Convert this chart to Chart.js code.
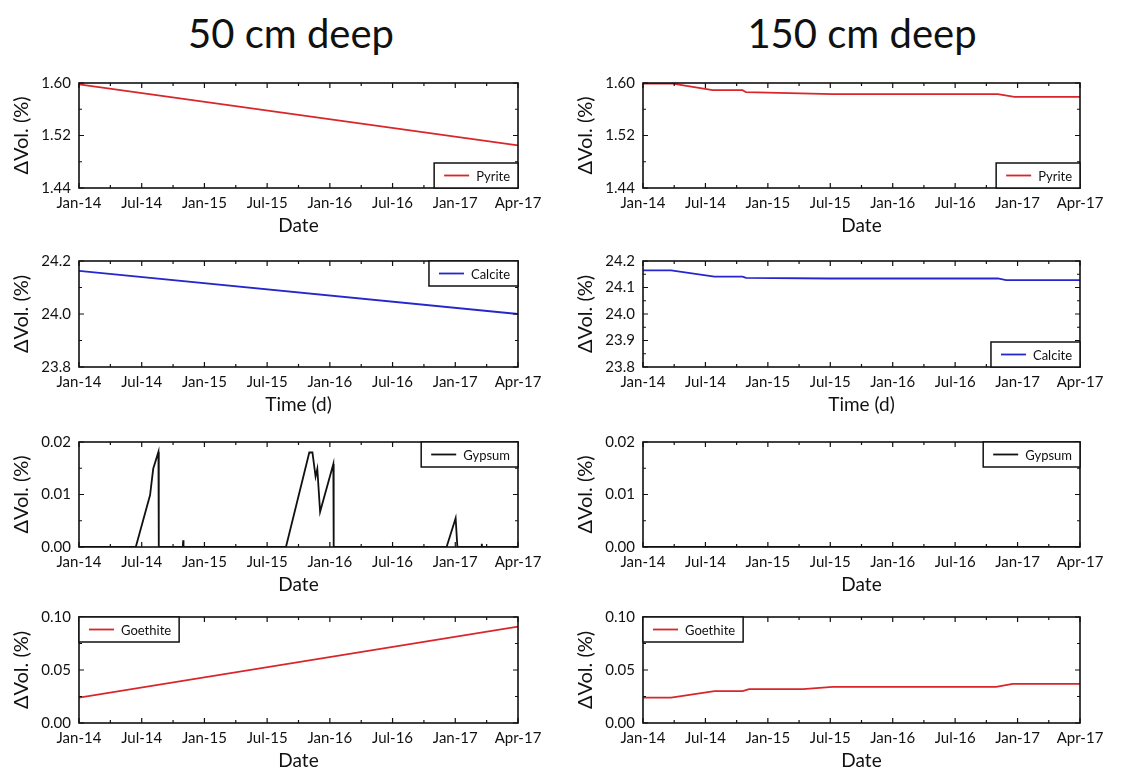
<!DOCTYPE html>
<html lang="en">
<head>
<meta charset="UTF-8">
<title>Mineral volume change - 50 cm and 150 cm deep</title>
<script src="https://cdn.jsdelivr.net/npm/chart.js"></script>
<style>
  body { margin: 0; background: #fff; font-family: Lato, sans-serif; }
  #page { position: relative; width: 1125px; height: 771px; overflow: hidden; }
  h2 { position: absolute; top: 9px; margin: 0; width: 400px; text-align: center;
       font-weight: normal; font-size: 40px; color: #111; }
  canvas { position: absolute; }
</style>
</head>
<body>
<div id="page">
  <h2 style="left: 91px;">50 cm deep</h2>
  <h2 style="left: 662px;">150 cm deep</h2>
</div>

<script>
// x axis: days from start, a labelled tick every 180 days
const xTickLabels = ['Jan-14', 'Jul-14', 'Jan-15', 'Jul-15', 'Jan-16', 'Jul-16', 'Jan-17', 'Apr-17'];

// 50 cm deep
const pyrite50Days = [0, 1260];
const pyrite50 = [1.598, 1.505];
const calcite50Days = [0, 1260];
const calcite50 = [24.163, 24.000];
const gypsum50Days = [0, 163, 204, 213, 228, 229, 298, 299, 300, 594, 661, 670, 679, 684, 692, 730, 731, 1055, 1081, 1086, 1155, 1156, 1157, 1260];
const gypsum50 = [0, 0, 0.0099, 0.0149, 0.0181, 0, 0, 0.0013, 0, 0, 0.0180, 0.0180, 0.0134, 0.0149, 0.0067, 0.0158, 0, 0, 0.0055, 0, 0, 0.0006, 0, 0];
const goethite50Days = [0, 1260];
const goethite50 = [0.024, 0.091];

// 150 cm deep
const pyrite150Days = [0, 86, 201, 287, 297, 547, 1023, 1071, 1260];
const pyrite150 = [1.599, 1.599, 1.589, 1.589, 1.586, 1.583, 1.583, 1.579, 1.579];
const calcite150Days = [0, 81, 206, 287, 297, 537, 1023, 1047, 1260];
const calcite150 = [24.165, 24.165, 24.141, 24.141, 24.136, 24.134, 24.134, 24.128, 24.128];
const gypsum150Days = [0, 1260];
const gypsum150 = [0, 0];
const goethite150Days = [0, 81, 206, 287, 306, 461, 547, 1018, 1066, 1260];
const goethite150 = [0.024, 0.024, 0.030, 0.030, 0.032, 0.032, 0.034, 0.034, 0.037, 0.037];

const RED = '#d8262a', BLUE = '#2626cc', BLACK = '#111';

Chart.defaults.font.family = 'Lato, sans-serif';
Chart.defaults.color = '#111';

// box round the plot with inward ticks on all four sides
const frameTicks = {
    id: 'frameTicks',
    afterDatasetsDraw(chart, args, opts) {
        const { left, right, top, bottom } = chart.chartArea;
        const xs = chart.scales.x, ys = chart.scales.y;
        const ctx = chart.ctx;
        ctx.save();
        ctx.strokeStyle = BLACK;
        ctx.lineWidth = 1.2;
        ctx.beginPath();
        const isMajor = (v, step) => Math.abs(v / step - Math.round(v / step)) < 1e-6;
        for (let i = 0; xs.min + i * opts.xMinor <= xs.max + 1e-9; i++) {
            const v = xs.min + i * opts.xMinor;
            const len = isMajor(v - xs.min, opts.xMajor) ? 5 : 3;
            const px = xs.getPixelForValue(v);
            ctx.moveTo(px, bottom); ctx.lineTo(px, bottom - len);
            ctx.moveTo(px, top); ctx.lineTo(px, top + len);
        }
        for (let i = 0; ys.min + i * opts.yMinor <= ys.max + 1e-9; i++) {
            const v = ys.min + i * opts.yMinor;
            const len = isMajor(v - ys.min, opts.yMajor) ? 5 : 3;
            const py = ys.getPixelForValue(v);
            ctx.moveTo(left, py); ctx.lineTo(left + len, py);
            ctx.moveTo(right, py); ctx.lineTo(right - len, py);
        }
        ctx.stroke();
        ctx.lineWidth = 1.6;
        ctx.strokeRect(left, top, right - left, bottom - top);
        ctx.restore();
    }
};

// boxed legend sitting in a corner of the plot
const cornerLegend = {
    id: 'cornerLegend',
    afterDatasetsDraw(chart, args, opts) {
        const ds = chart.data.datasets[0];
        const { left, right, top, bottom } = chart.chartArea;
        const ctx = chart.ctx;
        ctx.save();
        ctx.font = '13px Lato, sans-serif';
        const w = ctx.measureText(ds.label).width + 50;
        const h = 25;
        const x = opts.corner.includes('l') ? left : right - w;
        const y = opts.corner.includes('t') ? top : bottom - h;
        ctx.fillStyle = '#fff';
        ctx.fillRect(x, y, w, h);
        ctx.strokeStyle = BLACK;
        ctx.lineWidth = 1.5;
        ctx.strokeRect(x, y, w, h);
        ctx.strokeStyle = ds.borderColor;
        ctx.lineWidth = 1.8;
        ctx.beginPath();
        ctx.moveTo(x + 10, y + h / 2);
        ctx.lineTo(x + 35, y + h / 2);
        ctx.stroke();
        ctx.fillStyle = BLACK;
        ctx.textBaseline = 'middle';
        ctx.fillText(ds.label, x + 42, y + h / 2 + 1);
        ctx.restore();
    }
};

const colLeft = [0, 564];
const colPadRight = [42, 44];
const rowTop = [76, 254, 435, 610];
const rowBottom = [188, 367, 547, 723];

const panels = [
    { col: 0, row: 0, days: pyrite50Days, vals: pyrite50, label: 'Pyrite', color: RED, yMin: 1.44, yMax: 1.60, yStep: 0.08, yMinor: 0.04, dec: 2, corner: 'br', xTitle: 'Date' },
    { col: 0, row: 1, days: calcite50Days, vals: calcite50, label: 'Calcite', color: BLUE, yMin: 23.8, yMax: 24.2, yStep: 0.2, yMinor: 0.1, dec: 1, corner: 'tr', xTitle: 'Time (d)' },
    { col: 0, row: 2, days: gypsum50Days, vals: gypsum50, label: 'Gypsum', color: BLACK, yMin: 0, yMax: 0.02, yStep: 0.01, yMinor: 0.005, dec: 2, corner: 'tr', xTitle: 'Date' },
    { col: 0, row: 3, days: goethite50Days, vals: goethite50, label: 'Goethite', color: RED, yMin: 0, yMax: 0.10, yStep: 0.05, yMinor: 0.025, dec: 2, corner: 'tl', xTitle: 'Date' },
    { col: 1, row: 0, days: pyrite150Days, vals: pyrite150, label: 'Pyrite', color: RED, yMin: 1.44, yMax: 1.60, yStep: 0.08, yMinor: 0.04, dec: 2, corner: 'br', xTitle: 'Date' },
    { col: 1, row: 1, days: calcite150Days, vals: calcite150, label: 'Calcite', color: BLUE, yMin: 23.8, yMax: 24.2, yStep: 0.1, yMinor: 0.05, dec: 1, corner: 'br', xTitle: 'Time (d)' },
    { col: 1, row: 2, days: gypsum150Days, vals: gypsum150, label: 'Gypsum', color: BLACK, yMin: 0, yMax: 0.02, yStep: 0.01, yMinor: 0.005, dec: 2, corner: 'tr', xTitle: 'Date' },
    { col: 1, row: 3, days: goethite150Days, vals: goethite150, label: 'Goethite', color: RED, yMin: 0, yMax: 0.10, yStep: 0.05, yMinor: 0.025, dec: 2, corner: 'tl', xTitle: 'Date' }
];

const page = document.getElementById('page');
const PAD_TOP = 10, X_AXIS_H = 49, Y_AXIS_W = 79;

panels.forEach(p => {
    const plotH = rowBottom[p.row] - rowTop[p.row];
    const canvas = document.createElement('canvas');
    canvas.width = 560;
    canvas.height = PAD_TOP + plotH + X_AXIS_H;
    canvas.style.left = colLeft[p.col] + 'px';
    canvas.style.top = (rowTop[p.row] - PAD_TOP) + 'px';
    page.appendChild(canvas);

    new Chart(canvas.getContext('2d'), {
        type: 'line',
        data: {
            datasets: [{
                label: p.label,
                data: p.days.map((d, i) => ({ x: d, y: p.vals[i] })),
                borderColor: p.color,
                borderWidth: 1.8,
                pointRadius: 0,
                tension: 0,
                fill: false
            }]
        },
        options: {
            responsive: false,
            animation: false,
            devicePixelRatio: 1,
            layout: { padding: { top: PAD_TOP, right: colPadRight[p.col], left: 0, bottom: 0 } },
            plugins: {
                legend: { display: false },
                tooltip: { enabled: false },
                frameTicks: { xMajor: 180, xMinor: 90, yMajor: p.yStep, yMinor: p.yMinor },
                cornerLegend: { corner: p.corner }
            },
            scales: {
                x: {
                    type: 'linear',
                    min: 0,
                    max: 1260,
                    afterFit: s => { s.height = X_AXIS_H; },
                    grid: { display: false, drawTicks: false },
                    border: { display: false },
                    ticks: {
                        stepSize: 180,
                        autoSkip: false,
                        maxRotation: 0,
                        padding: 6,
                        font: { size: 15 },
                        callback: v => xTickLabels[Math.round(v / 180)]
                    },
                    title: { display: true, text: p.xTitle, font: { size: 19 }, padding: 0 }
                },
                y: {
                    min: p.yMin,
                    max: p.yMax,
                    afterFit: s => { s.width = Y_AXIS_W; },
                    grid: { display: false, drawTicks: false },
                    border: { display: false },
                    ticks: {
                        stepSize: p.yStep,
                        padding: 8,
                        font: { size: 15 },
                        callback: v => Number(v).toFixed(p.dec)
                    },
                    title: { display: true, text: '\u0394Vol. (%)', font: { size: 20 }, padding: { top: 10, bottom: 0 } }
                }
            }
        },
        plugins: [frameTicks, cornerLegend]
    });
});
</script>
</body>
</html>
